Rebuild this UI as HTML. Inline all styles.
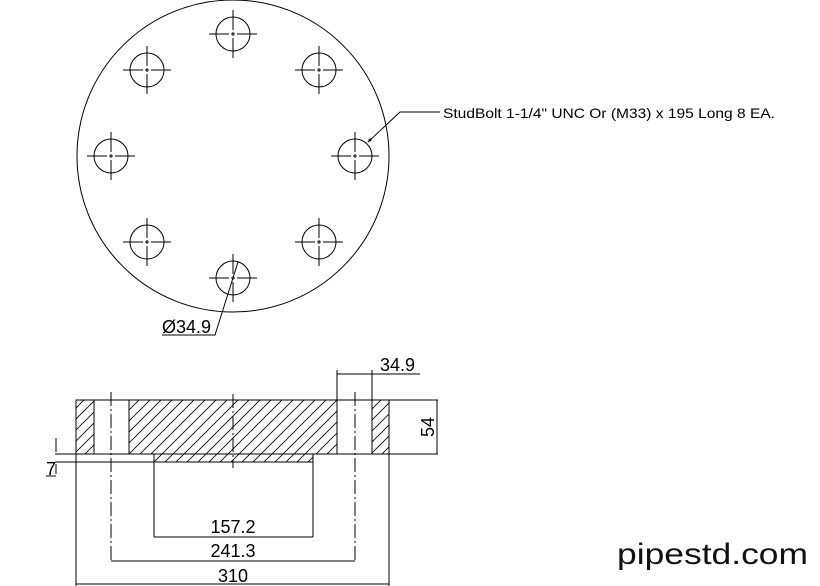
<!DOCTYPE html>
<html><head><style>html,body{margin:0;padding:0;background:#fff}svg{display:block}</style></head>
<body>
<svg width="820" height="586" viewBox="0 0 820 586" xmlns="http://www.w3.org/2000/svg" font-family="Liberation Sans, sans-serif">
<defs>
<pattern id="h" width="11" height="11" patternUnits="userSpaceOnUse">
<path d="M0 11 L11 0 M-2 2 L2 -2 M9 13 L13 9" stroke="#000" stroke-width="0.8"/>
</pattern>
<g id="bh">
<circle r="17" fill="none" stroke="#000" stroke-width="1"/>
<path d="M-24 0H-4M-2 0H2M4 0H24M0 -24V-4M0 -2V2M0 4V24" stroke="#000" stroke-width="1"/>
</g>
</defs>
<g fill="none" stroke="#000" stroke-width="1">
<circle cx="233" cy="156" r="156"/>
</g>
<use href="#bh" x="233" y="34"/>
<use href="#bh" x="147" y="70"/>
<use href="#bh" x="319" y="70"/>
<use href="#bh" x="111" y="156"/>
<use href="#bh" x="355" y="156"/>
<use href="#bh" x="147" y="242"/>
<use href="#bh" x="319" y="242"/>
<use href="#bh" x="233" y="278"/>
<g fill="none" stroke="#000" stroke-width="1">
<path d="M368 142 L400 112 H440"/>
<path d="M238 262 L215 335 H162"/>
</g>
<circle cx="370" cy="140" r="1.5"/>
<text x="443" y="118" font-size="14" textLength="332" lengthAdjust="spacingAndGlyphs">StudBolt 1-1/4" UNC Or (M33) x 195 Long 8 EA.</text>
<text x="162" y="333" font-size="18">Ø34.9</text>

<!-- section -->
<path d="M76 400H94V454H76Z M129 400H337V454H313V462H154V454H129Z M372 400H389V454H372Z" fill="url(#h)" stroke="#000" stroke-width="1"/>
<g fill="none" stroke="#000" stroke-width="1">
<path d="M76 400H389 M55 454H438 M55 462H154 M389 400H438"/>
<path d="M94 400V454 M129 400V454 M337 370V454 M372 370V454"/>
<path d="M111 392V561 M355 392V561 M233 394V468" stroke-dasharray="14 3 2 3"/>
<path d="M76 454V586 M389 454V586 M154 462V537 M313 462V537"/>
<path d="M154 537H313 M111 561H355 M76 584H389 M337 374H420 M437 400V454"/>
<path d="M56 438V452 M56 464V474 M46 476H56"/>
</g>
<text x="233" y="533" font-size="18" text-anchor="middle">157.2</text>
<text x="233" y="557" font-size="18" text-anchor="middle">241.3</text>
<text x="233" y="582" font-size="18" text-anchor="middle">310</text>
<text x="380" y="371" font-size="18">34.9</text>
<text x="46" y="475" font-size="18">7</text>
<text transform="translate(434,427) rotate(-90)" font-size="18" text-anchor="middle">54</text>
<text x="617" y="564" font-size="30" textLength="191" lengthAdjust="spacingAndGlyphs" fill="#111">pipestd.com</text>
</svg>
</body></html>
